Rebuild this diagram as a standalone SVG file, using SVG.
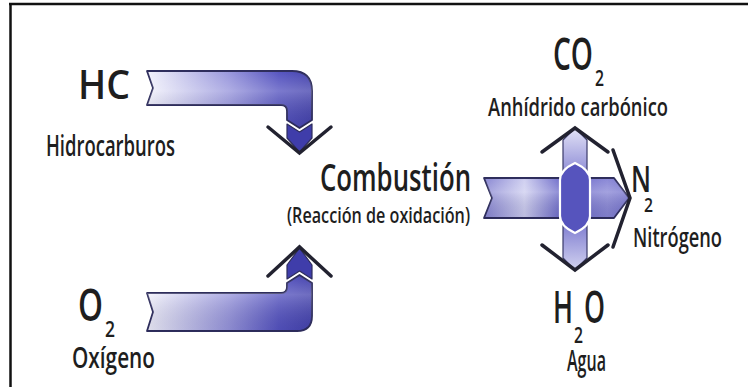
<svg xmlns="http://www.w3.org/2000/svg" width="748" height="387" viewBox="0 0 748 387">
<defs>
<linearGradient id="gHC" gradientUnits="userSpaceOnUse" x1="147" y1="0" x2="312" y2="0">
<stop offset="0" stop-color="#f2f2fb"/><stop offset="0.5" stop-color="#9896dc"/><stop offset="0.8" stop-color="#5654c0"/><stop offset="1" stop-color="#4543ad"/>
</linearGradient>
<linearGradient id="gR" gradientUnits="userSpaceOnUse" x1="484" y1="0" x2="629" y2="0">
<stop offset="0" stop-color="#8886d2"/><stop offset="0.28" stop-color="#cfcff0"/><stop offset="0.55" stop-color="#6664c6"/><stop offset="0.85" stop-color="#8a88d6"/><stop offset="1" stop-color="#7472cc"/>
</linearGradient>
<linearGradient id="gUp" x1="0" y1="0" x2="0" y2="1">
<stop offset="0" stop-color="#e2e2f6"/><stop offset="1" stop-color="#7e7cd0"/>
</linearGradient>
<linearGradient id="gDn" x1="0" y1="0" x2="0" y2="1">
<stop offset="0" stop-color="#6e6cca"/><stop offset="1" stop-color="#d2d2f0"/>
</linearGradient>
<linearGradient id="shade" x1="0" y1="0" x2="0" y2="1">
<stop offset="0" stop-color="#ffffff" stop-opacity="0"/><stop offset="0.35" stop-color="#ffffff" stop-opacity="0.22"/><stop offset="1" stop-color="#000033" stop-opacity="0.08"/>
</linearGradient>
<style>
.t{font-family:"Open Sans","Liberation Sans",sans-serif;font-weight:600;fill:#1e1e1e;}
.band{stroke:#2e2d5c;stroke-width:1.8;stroke-linejoin:round;}
.head{fill:#3f3daa;stroke:#2e2d5c;stroke-width:1.2;stroke-linejoin:round;}
.barb{fill:none;stroke:#222230;stroke-width:3.5;stroke-linecap:round;stroke-linejoin:miter;}
.shaft{stroke:#3a3a6a;stroke-width:1.2;stroke-linejoin:round;}
</style>
</defs>
<rect x="0" y="0" width="748" height="387" fill="#ffffff"/>
<g id="frame">
<line x1="9" y1="4" x2="748" y2="4" stroke="#111" stroke-width="2.5"/>
<line x1="10.5" y1="3" x2="10.5" y2="387" stroke="#111" stroke-width="2.5"/>
</g>
<g id="connectors">
<g id="arrow-hc">
<path class="band" fill="url(#gHC)" d="M147,71 L292,71 Q312,71 312,91 L312,120 L299.5,128 L287,120 L287,111 Q287,105 281,105 L147,105 L153,88 Z"/>
<path d="M147,71 L292,71 Q312,71 312,91 L312,120 L299.5,128 L287,120 L287,111 Q287,105 281,105 L147,105 L153,88 Z" fill="url(#shade)"/>
<path class="head" d="M287,124 L299.5,132 L312,124 L312,138 L299.5,152 L287,138 Z"/>
<polyline class="barb" points="268,127 299.5,153 331,127"/>
</g>
<g id="arrow-o2">
<path class="band" fill="url(#gHC)" d="M147,293 L281,293 Q287,293 287,287 L287,283 L299.5,275 L312,283 L312,316 Q312,331 297,331 L147,331 L153,312 Z"/>
<path d="M147,293 L281,293 Q287,293 287,287 L287,283 L299.5,275 L312,283 L312,316 Q312,331 297,331 L147,331 L153,312 Z" fill="url(#shade)"/>
<path class="head" d="M287,279 L299.5,271 L312,279 L312,265 L299.5,248 L287,265 Z"/>
<polyline class="barb" points="268,276 299.5,247 331,276"/>
</g>
<g id="arrow-out">
<path class="band" fill="url(#gR)" d="M484,178 L614,178 L629,198 L614,218 L484,218 L492,198 Z"/>
<path d="M484,178 L614,178 L629,198 L614,218 L484,218 L492,198 Z" fill="url(#shade)"/>
<polyline class="barb" points="613,150 630,198 613,247"/>
<path class="shaft" fill="url(#gUp)" d="M563,182 L563,140 L575,128 L587,140 L587,182 Z"/>
<polyline class="barb" points="542,152 575,128 608,152"/>
<path class="shaft" fill="url(#gDn)" d="M563,214 L563,258 L575,270 L587,258 L587,214 Z"/>
<polyline class="barb" points="542,245 575,270 608,245"/>
<path d="M560,180 Q560,170 575,163 Q590,170 590,180 L590,216 Q590,226 575,233 Q560,226 560,216 Z" fill="#5654bd" stroke="#ffffff" stroke-width="2.2"/>
</g>
</g>
<g id="node-hc">
<text class="t" x="78" y="99" font-size="39" textLength="52" lengthAdjust="spacingAndGlyphs">HC</text>
<text class="t" x="46" y="156" font-size="29" textLength="129" lengthAdjust="spacingAndGlyphs">Hidrocarburos</text>
</g>
<g id="node-o2">
<text class="t" x="78" y="321" font-size="46" textLength="25" lengthAdjust="spacingAndGlyphs">O</text>
<text class="t" x="105" y="337" font-size="22" textLength="10" lengthAdjust="spacingAndGlyphs">2</text>
<text class="t" x="72" y="368" font-size="29" textLength="83" lengthAdjust="spacingAndGlyphs">Oxígeno</text>
</g>
<g id="node-combustion">
<text class="t" x="320" y="191" font-size="37" textLength="151" lengthAdjust="spacingAndGlyphs">Combustión</text>
<text class="t" x="287" y="223" font-size="22" textLength="183" lengthAdjust="spacingAndGlyphs">(Reacción de oxidación)</text>
</g>
<g id="node-co2">
<text class="t" x="553" y="70" font-size="45" textLength="40" lengthAdjust="spacingAndGlyphs">CO</text>
<text class="t" x="595" y="86" font-size="22" textLength="9" lengthAdjust="spacingAndGlyphs">2</text>
<text class="t" x="488" y="116" font-size="26" textLength="180" lengthAdjust="spacingAndGlyphs">Anhídrido carbónico</text>
</g>
<g id="node-n2">
<text class="t" x="631" y="192" font-size="36" textLength="20" lengthAdjust="spacingAndGlyphs">N</text>
<text class="t" x="644" y="212" font-size="20" textLength="9" lengthAdjust="spacingAndGlyphs">2</text>
<text class="t" x="633" y="247" font-size="27" textLength="89" lengthAdjust="spacingAndGlyphs">Nitrógeno</text>
</g>
<g id="node-h2o">
<text class="t" x="553" y="323" font-size="46" textLength="20" lengthAdjust="spacingAndGlyphs">H</text>
<text class="t" x="574" y="343" font-size="22" textLength="9" lengthAdjust="spacingAndGlyphs">2</text>
<text class="t" x="584" y="323" font-size="46" textLength="21" lengthAdjust="spacingAndGlyphs">O</text>
<text class="t" x="567" y="371" font-size="28" textLength="39" lengthAdjust="spacingAndGlyphs">Agua</text>
</g>
</svg>
